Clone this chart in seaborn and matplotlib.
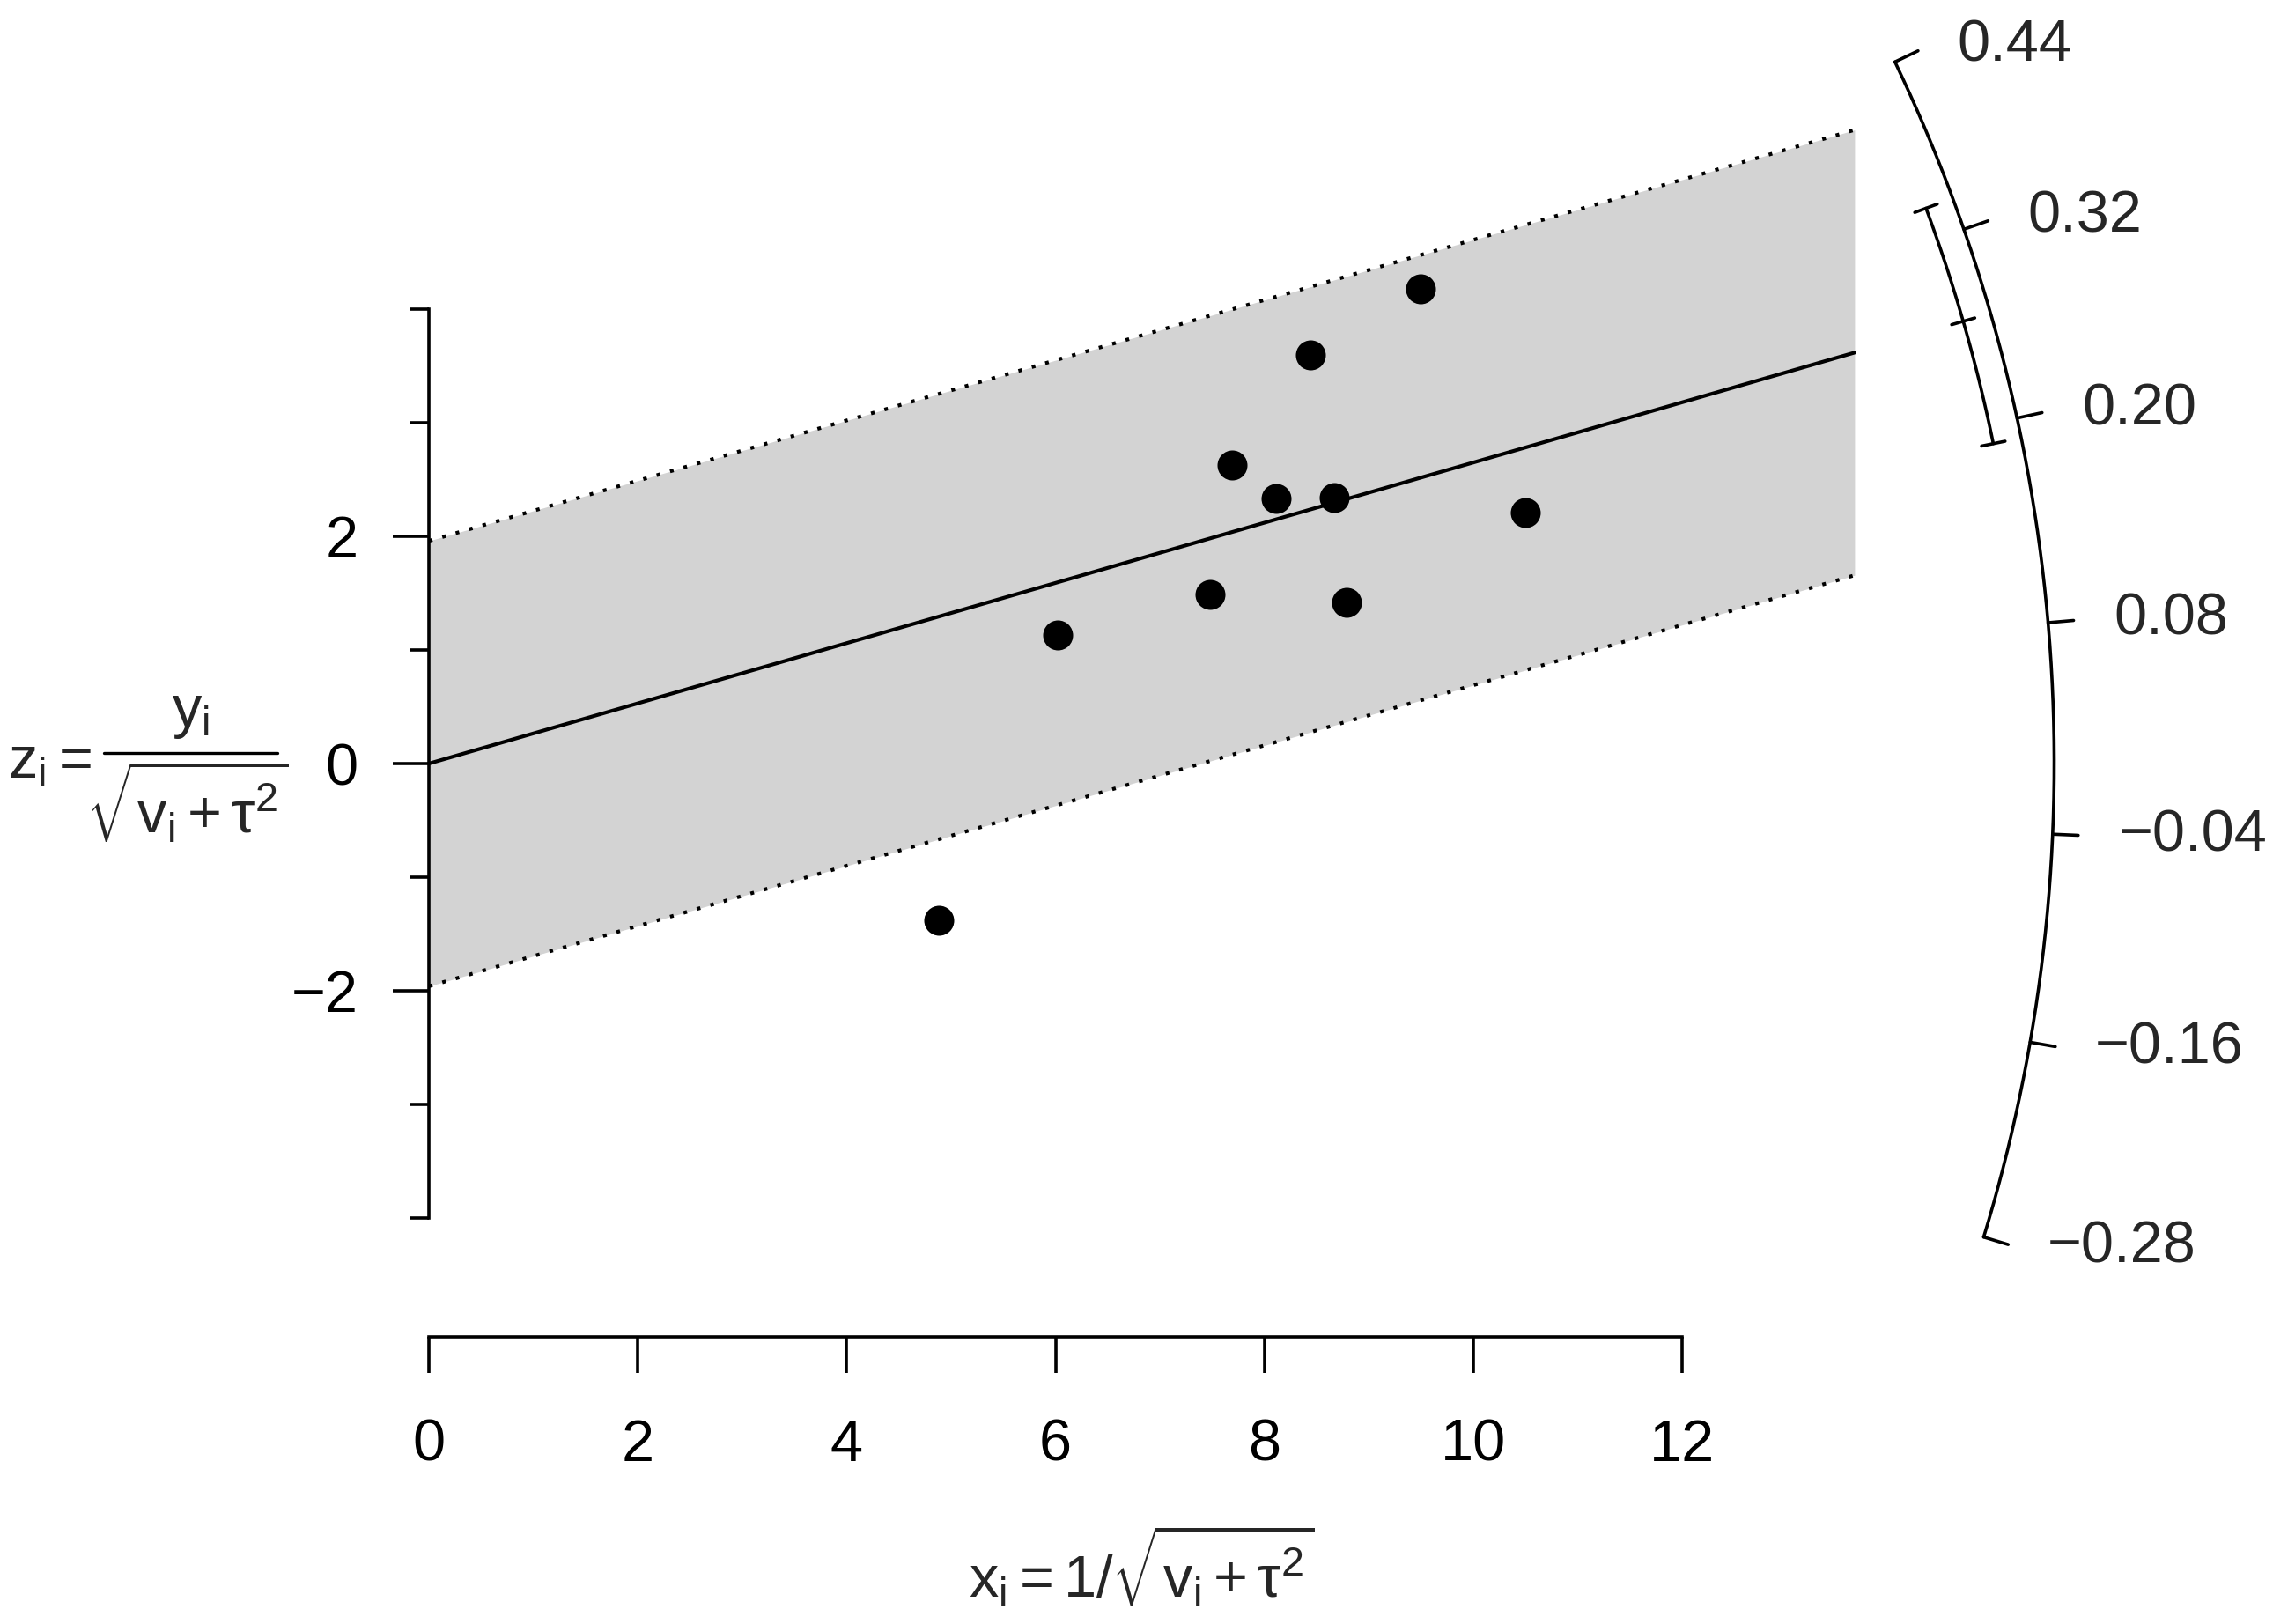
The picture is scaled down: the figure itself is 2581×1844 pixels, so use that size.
import numpy as np
import matplotlib
matplotlib.use("Agg")
import matplotlib.pyplot as plt
import seaborn as sns

# standardized studies: x = 1/sqrt(v+tau2), z = y/sqrt(v+tau2)
xi = [4.88, 6.02, 7.48, 7.69, 8.11, 8.67, 8.79, 8.44, 9.49, 10.50]
zi = [-1.38, 1.13, 1.49, 2.63, 2.33, 2.34, 1.42, 3.60, 4.18, 2.21]

# pooled estimate and its CI (shown on the arc)
est = 0.265
ci_lb = 0.188
ci_ub = 0.341
zcrit = 1.96

x_ticks = [0, 2, 4, 6, 8, 10, 12]
z_major = [-2, 0, 2]
z_minor = [-4, -3, -1, 1, 3, 4]
arc_ticks = [-0.28, -0.16, -0.04, 0.08, 0.20, 0.32, 0.44]

sns.set_theme(style="white")
plt.rcParams['font.family'] = ['Liberation Sans', 'DejaVu Sans']
plt.rcParams['mathtext.fontset'] = 'custom'
plt.rcParams['mathtext.rm'] = 'Liberation Sans'
plt.rcParams['mathtext.it'] = 'Liberation Sans'
plt.rcParams['mathtext.sf'] = 'Liberation Sans'
plt.rcParams['axes.unicode_minus'] = True

W, H, DPI = 2581, 1844, 200
fig = plt.figure(figsize=(W / DPI, H / DPI), dpi=DPI)
ax = fig.add_axes([0, 0, 1, 1])

# origin of the plot in pixels and pixels per unit
ox, oy, sx, sy = 487, 867, 118.6, 129.0
ax.set_xlim(-ox / sx, (W - ox) / sx)
ax.set_ylim(-(H - oy) / sy, oy / sy)
ax.set_facecolor('white')


def px(x, y):
    # figure pixel (from top-left) -> data coords
    return (x - ox) / sx, (oy - y) / sy


FS = 24
LW = 1.3

# shaded region and lines, like metafor's radial plot
x_end = 1.3 * max(xi)
xs = np.array([0, x_end])
ax.fill_between(xs, zcrit + est * xs, -zcrit + est * xs, color='#D3D3D3', lw=0, zorder=1)
ax.plot(xs, est * xs, color='black', lw=1.5, zorder=2)
ax.plot(xs, zcrit + est * xs, color='black', lw=1.5, ls=(0, (1, 2.8)), zorder=2)
ax.plot(xs, -zcrit + est * xs, color='black', lw=1.5, ls=(0, (1, 2.8)), zorder=2)

sns.scatterplot(x=xi, y=zi, ax=ax, s=150, color='black', edgecolor='black',
                linewidth=0, zorder=3, legend=False)

# axes drawn R-style
for side in ['top', 'right']:
    ax.spines[side].set_visible(False)
ax.spines['left'].set_position(('data', 0))
ax.spines['left'].set_bounds(-4, 4)
ax.spines['bottom'].set_position(('data', -5.05))
ax.spines['bottom'].set_bounds(0, 12)
for side in ['left', 'bottom']:
    ax.spines[side].set_color('black')
    ax.spines[side].set_linewidth(LW)

ax.set_xticks(x_ticks)
ax.set_yticks(z_major)
ax.set_yticks(z_minor, minor=True)
ax.tick_params(axis='both', which='both', direction='out', color='black',
               width=LW, labelsize=FS, labelcolor='black')
ax.tick_params(axis='x', which='major', bottom=True, length=14.8, pad=18.5)
ax.tick_params(axis='y', which='major', left=True, length=14.8, pad=14)
ax.tick_params(axis='y', which='minor', left=True, length=7.4)
ax.grid(False)

# y title: z_i = y_i / sqrt(v_i + tau^2), stacked like R plotmath
ax.text(*px(56, 866), r'$\mathregular{z_i =}$', ha='center', va='center', fontsize=FS)
ax.text(*px(217, 810), r'$\mathregular{y_i}$', ha='center', va='center', fontsize=FS)
ax.plot(*zip(px(118, 855), px(315, 855)), color='black', lw=1.2, clip_on=False)
ax.text(*px(213, 912), r'$\mathregular{\sqrt{v_i + \tau^2}}$', ha='center', va='center', fontsize=FS)

# x title
ax.text(*px(1296, 1780), r'$\mathregular{x_i = 1/\sqrt{v_i + \tau^2}}$',
        ha='center', va='center', fontsize=FS)

# arc on the right (a circle in screen space)
p0 = ax.transData.transform((0, 0))
asp = (ax.transData.transform((0, 1))[1] - p0[1]) / (ax.transData.transform((1, 0))[0] - p0[0])


def arc_pt(theta, radius):
    theta = np.asarray(theta, dtype=float)
    xx = radius / np.sqrt(1 + (theta * asp) ** 2)
    return xx, theta * xx


ya_r = 1.14 * x_end
ci_r = 1.12 * x_end
tick_len = 0.245
ci_half = 0.115

th = np.linspace(min(arc_ticks), max(arc_ticks), 200)
ax.plot(*arc_pt(th, ya_r), color='black', lw=LW, clip_on=False)
for t in arc_ticks:
    a = arc_pt(t, ya_r)
    b = arc_pt(t, ya_r + tick_len)
    ax.plot([a[0], b[0]], [a[1], b[1]], color='black', lw=LW, clip_on=False)
    lab = arc_pt(t, 1887 / sx)
    ax.annotate(f"{t:.2f}".replace('-', '\u2212'), xy=lab, xytext=(11.9, 0),
                textcoords='offset points', ha='left', va='center', fontsize=FS)

th = np.linspace(ci_lb, ci_ub, 60)
ax.plot(*arc_pt(th, ci_r), color='black', lw=LW, clip_on=False)
for t in [ci_lb, est, ci_ub]:
    a = arc_pt(t, ci_r - ci_half)
    b = arc_pt(t, ci_r + ci_half)
    ax.plot([a[0], b[0]], [a[1], b[1]], color='black', lw=LW, clip_on=False)

fig.savefig('out.png', dpi=DPI, facecolor='white')
